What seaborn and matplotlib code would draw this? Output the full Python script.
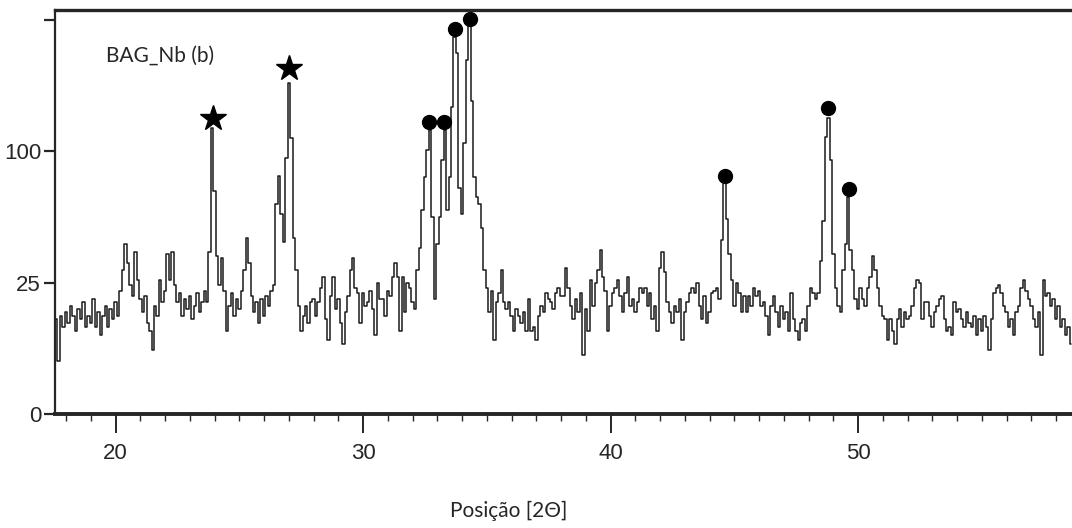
import numpy as np
import matplotlib
matplotlib.use("Agg")
import matplotlib.pyplot as plt
import seaborn as sns

# XRD pattern BAG_Nb (b), counts in 0.1 deg steps from 17.6
start_2theta = 17.6
step_2theta = 0.1
counts = [
    13, 4, 14, 11,                                   # 17.6 - 17.9
    15, 12, 17, 14, 10, 16, 13, 18, 11, 14,          # 18
    12, 19, 11, 15, 9, 14, 17, 11, 16, 13,           # 19
    18, 14, 22, 30, 42, 33, 24, 20, 38, 26,          # 20
    19, 15, 20, 12, 10, 6, 17, 14, 26, 18,           # 21
    22, 37, 26, 38, 24, 18, 21, 14, 19, 16,          # 22
    20, 13, 17, 21, 15, 18, 22, 18, 38, 118,         # 23
    72, 36, 24, 35, 22, 10, 17, 21, 14, 19,          # 24
    16, 22, 30, 45, 33, 20, 15, 18, 12, 19,          # 25
    14, 20, 17, 22, 24, 64, 82, 58, 43, 95,          # 26
    158, 110, 45, 30, 17, 10, 14, 17, 12, 18,        # 27
    19, 14, 18, 23, 27, 13, 8, 20, 27, 16,           # 28
    19, 12, 7, 15, 20, 30, 35, 23, 21, 12,           # 29
    21, 17, 18, 22, 16, 9, 25, 19, 19, 14,           # 30
    22, 20, 27, 33, 27, 10, 27, 15, 25, 23,          # 31
    18, 16, 30, 40, 60, 81, 101, 117, 56, 19,        # 32
    42, 56, 93, 117, 60, 81, 136, 205, 188, 74,      # 33
    58, 106, 181, 221, 142, 81, 68, 64, 50, 30,      # 34
    23, 15, 22, 8, 18, 21, 30, 18, 16, 18,           # 35
    14, 10, 16, 14, 12, 15, 10, 19, 10, 11,          # 36
    8, 14, 17, 15, 21, 19, 18, 16, 21, 23,           # 37
    20, 20, 31, 23, 17, 13, 19, 15, 21, 5,           # 38
    16, 10, 26, 17, 25, 30, 39, 27, 22, 10,          # 39
    17, 21, 23, 26, 20, 15, 21, 27, 17, 19,          # 40
    15, 18, 23, 21, 23, 17, 21, 13, 17, 10,          # 41
    31, 38, 29, 18, 15, 12, 17, 15, 19, 8,           # 42
    15, 18, 21, 23, 21, 25, 17, 13, 20, 12,          # 43
    15, 21, 22, 23, 19, 44, 77, 55, 37, 26,          # 44
    17, 25, 21, 15, 20, 15, 20, 17, 23, 20,          # 45
    22, 17, 18, 14, 9, 17, 20, 15, 11, 17,           # 46
    13, 15, 10, 21, 13, 10, 8, 12, 13, 10,           # 47
    17, 23, 21, 19, 21, 34, 54, 111, 127, 93,        # 48
    37, 23, 17, 15, 30, 42, 68, 39, 30, 19,          # 49
    16, 23, 19, 17, 23, 27, 36, 30, 23, 17,          # 50
    14, 13, 8, 13, 10, 7, 13, 16, 11, 15,            # 51
    13, 14, 17, 23, 26, 25, 13, 18, 18, 14,          # 52
    11, 15, 17, 19, 20, 13, 10, 11, 9, 18,           # 53
    15, 16, 13, 11, 15, 12, 11, 14, 9, 13,           # 54
    10, 14, 11, 6, 13, 21, 23, 24, 21, 17,           # 55
    15, 11, 13, 9, 15, 17, 23, 26, 22, 19,           # 56
    17, 13, 11, 15, 5, 26, 20, 21, 17, 19,           # 57
    13, 17, 11, 13, 9, 11, 7,                        # 58.0 - 58.6
]
two_theta = np.round(start_2theta + step_2theta * np.arange(len(counts)), 1)

# phase markers
star_pos = [23.93, 27.0]
star_y = [127, 173]
dot_pos = [32.67, 33.27, 33.71, 34.3, 44.6, 48.8, 49.63]
dot_y = [123, 123, 214, 226, 82, 135, 73]

y_ticks = [0, 25, 100, 225]
y_labels = ["0", "25", "100", ""]
x_ticks = [20, 30, 40, 50]

sns.set_style("ticks")
plt.rcParams["font.family"] = ["Liberation Sans", "DejaVu Sans"]

fig = plt.figure(figsize=(10.72, 5.28), dpi=100)
W, H = 1072, 528
ax = fig.add_axes([55 / W, 1 - 414 / H, (W - 55) / W, (414 - 10) / H])

sns.lineplot(x=two_theta, y=counts, ax=ax, color="#1a1a1a", lw=1.1,
             drawstyle="steps-mid", estimator=None)
ax.plot(star_pos, star_y, ls="none", marker="*", ms=19, color="black")
ax.plot(dot_pos, dot_y, ls="none", marker="o", ms=10, color="black")

ax.set_yscale("function", functions=(lambda v: np.sqrt(np.clip(v, 0, None)), np.square))
ax.set_xlim(17.55, 58.64)
ax.set_ylim(0, 236)
ax.set_yticks(y_ticks)
ax.set_yticklabels(y_labels)
ax.set_xticks(x_ticks)
ax.set_xticks(np.arange(18, 59, 1), minor=True)
ax.yaxis.set_minor_locator(matplotlib.ticker.NullLocator())
ax.set_xlabel("")
ax.set_ylabel("")

ax.spines["right"].set_visible(False)
ax.spines["top"].set_linewidth(2.4)
ax.spines["bottom"].set_linewidth(2.8)
ax.spines["left"].set_linewidth(1.6)
ax.tick_params(axis="x", which="major", length=14, width=1.4, pad=7, labelsize=16)
ax.tick_params(axis="x", which="minor", length=5, width=1.0)
ax.tick_params(axis="y", which="major", length=8, width=1.6, pad=2, labelsize=16)

fig.text(106 / W, 1 - 56 / H, "BAG_Nb (b)", fontsize=15, family=["Lato", "DejaVu Sans"],
         va="center", ha="left")
fig.text(509 / W, 1 - 511 / H, "Posição [2Θ]", fontsize=15, family=["Lato", "DejaVu Sans"],
         va="center", ha="center")

fig.savefig("out.png", dpi=100)
